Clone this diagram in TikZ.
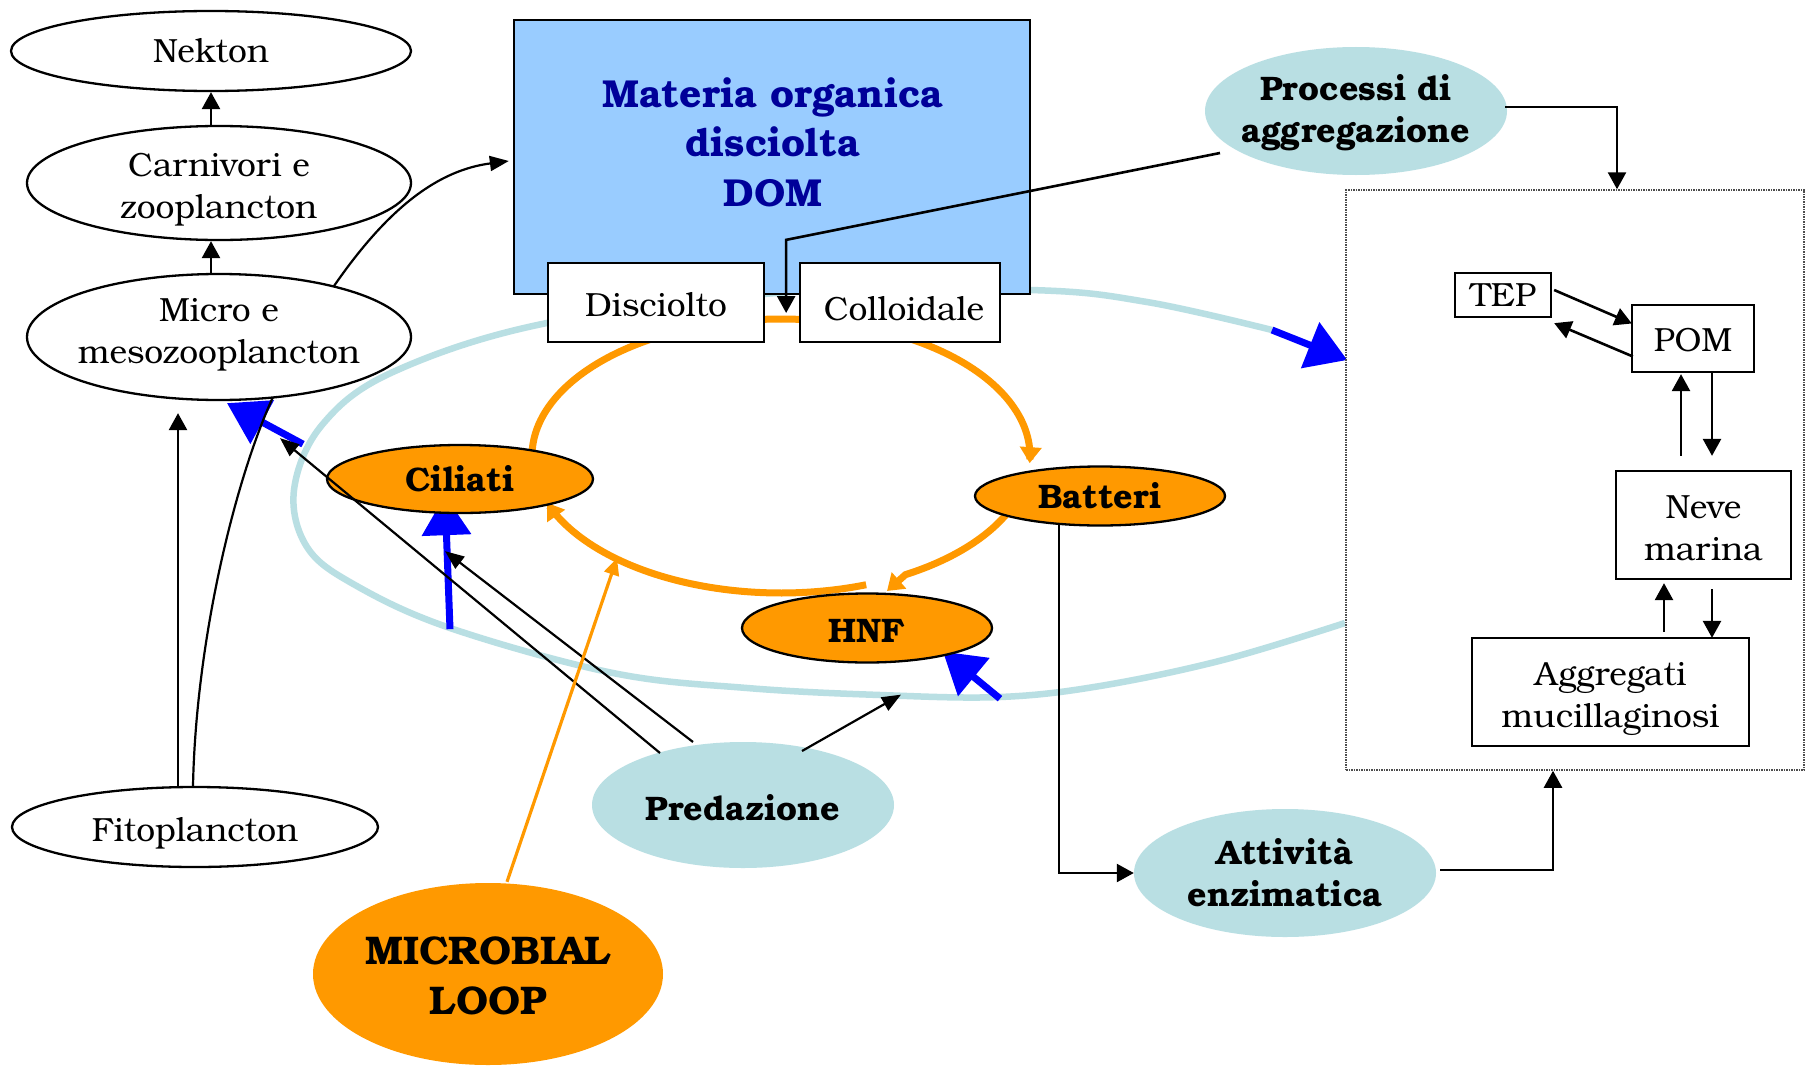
\documentclass[tikz,border=0pt]{standalone}
\usepackage{fontspec}
\setmainfont{texgyrebonum}[Extension=.otf,UprightFont=*-regular,BoldFont=*-bold,ItalicFont=*-italic,BoldItalicFont=*-bolditalic]
\usetikzlibrary{shapes.geometric,arrows.meta,calc}
\pgfdeclarelayer{bg}
\pgfsetlayers{bg,main}
\definecolor{teal1}{RGB}{185,223,227}
\definecolor{domblue}{RGB}{153,204,255}
\definecolor{navy1}{RGB}{0,0,153}
\definecolor{orng}{RGB}{255,153,0}
\definecolor{blu}{RGB}{0,0,255}
\begin{document}
\begin{tikzpicture}[x=1pt,y=-1pt,
  txt/.style={font=\fontsize{33.5}{42}\selectfont, align=center},
  btxt/.style={font=\fontsize{34}{42}\selectfont\bfseries, align=center},
  wellipse/.style={ellipse, draw, line width=2.3pt, fill=white, inner sep=0pt, inner xsep=-12pt, txt},
  oellipse/.style={ellipse, draw, line width=2.3pt, fill=orng, inner sep=0pt, btxt},
  tellipse/.style={ellipse, fill=teal1, inner sep=0pt, inner xsep=-20pt, btxt},
  wbox/.style={rectangle, draw, line width=2.3pt, fill=white, inner sep=0pt, txt},
  blk/.style={line width=2.6pt, -{Triangle[length=17pt,width=18pt]}},
  thin/.style={line width=2.2pt, -{Triangle[length=19pt,width=15pt]}},
  bluearr/.style={draw=blu, line width=7pt, -{Triangle[length=40pt,width=48pt]}},
  oloop/.style={draw=orng, line width=7pt},
  otip/.style={-{Triangle[length=16pt,width=21pt]}},
]
\useasboundingbox (0,0) rectangle (1806,1065);

% nodes
\node[wellipse, minimum width=400pt, minimum height=80pt] (nekton) at (211,51) {Nekton};
\node[wellipse, minimum width=384pt, minimum height=114pt] (carni) at (219,183) {};
\node[txt] (carnitxt) at (219,190) {Carnivori e\\zooplancton};
\node[wellipse, minimum width=384pt, minimum height=126pt] (micro) at (219,337) {};
\node[txt] (microtxt) at (219,335) {Micro e\\mesozooplancton};
\node[wellipse, minimum width=366pt, minimum height=80pt] (fito) at (195,827) {};
\node[txt] (fitotxt) at (195,833) {Fitoplancton};
\node[rectangle, draw, line width=2.3pt, fill=domblue, minimum width=516pt, minimum height=274pt] (dom) at (772,157) {};
\node[align=center, text=navy1, font=\fontsize{39}{49.5}\selectfont\bfseries] (domtxt) at (773,142) {Materia organica\\disciolta\\DOM};
\node[wbox, minimum width=216pt, minimum height=79pt] (disc) at (656,302.5) {};
\node[txt] (disctxt) at (656,304.5) {Disciolto};
\node[wbox, minimum width=200pt, minimum height=79pt] (coll) at (900,302.5) {};
\node[txt] (colltxt) at (904,308.5) {Colloidale};
\node[tellipse, minimum width=302pt, minimum height=128pt] (proc) at (1356,111) {};
\node[btxt] (proctxt) at (1356,113) {Processi di\\aggregazione};
\node[rectangle, draw=black!70, densely dotted, line width=1.5pt, minimum width=458pt, minimum height=580pt] (dashbox) at (1575,480) {};
\node[wbox, minimum width=96pt, minimum height=44pt] (tep) at (1503,295) {TEP};
\node[wbox, minimum width=122pt, minimum height=67pt] (pom) at (1693,338.5) {};
\node[txt] (pomtxt) at (1693,340.5) {POM};
\node[wbox, minimum width=175pt, minimum height=108pt] (neve) at (1703.5,525) {};
\node[txt] (nevetxt) at (1703.5,528) {Neve\\marina};
\node[wbox, minimum width=277pt, minimum height=108pt] (aggr) at (1610.5,692) {};
\node[txt] (aggrtxt) at (1610.5,699) {Aggregati\\mucillaginosi};
\node[oellipse, minimum width=266pt, minimum height=68pt] (ciliati) at (460,479) {Ciliati};
\node[oellipse, minimum width=250pt, minimum height=59pt] (batteri) at (1100,496) {Batteri};
\node[oellipse, minimum width=250pt, minimum height=69pt] (hnf) at (867,628) {};
\node[btxt] (hnftxt) at (867,631) {HNF};
\node[tellipse, minimum width=302pt, minimum height=126pt] (pred) at (743,805) {};
\node[btxt] (predtxt) at (743,808) {Predazione};
\node[tellipse, minimum width=302pt, minimum height=128pt] (attiv) at (1285,873) {Attività\\enzimatica};
\node[ellipse, fill=orng, inner sep=0pt, minimum width=350pt, minimum height=182pt] (mloop) at (488,974) {};
\node[align=center, font=\fontsize{40}{50}\selectfont\bfseries] (mlooptxt) at (488,976) {MICROBIAL\\LOOP};

\begin{pgfonlayer}{bg}
\fill[white] (0,0) rectangle (1806,1065);
% teal loop
\draw[teal1, line width=6.5pt] plot[smooth, tension=0.6] coordinates {(1272,330) (1147,302) (1030,290) (790,292) (547,323) (393,372) (322,425) (294,490) (307,547) (355,585) (450,628) (613,673) (747,688) (880,695) (1000,697) (1100,686) (1223,660) (1345,623)};
% orange microbial loop
\draw[oloop, otip] plot[domain=-90:3, samples=60] ({781+249*cos(\x)},{456+137*sin(\x)});
\draw[oloop, otip] plot[domain=25:60, samples=30] ({781+249*cos(\x)},{456+137*sin(\x)}) -- (887,591);
\draw[oloop, otip] plot[domain=70:160, samples=60] ({781+249*cos(\x)},{456+137*sin(\x)});
\draw[oloop] plot[domain=176:270, samples=60] ({781+249*cos(\x)},{456+137*sin(\x)});
% blue arrows
\draw[bluearr] ($(micro.south)+(84,43)$) -- ($(micro.south)+(8,2)$);
\draw[bluearr] ($(ciliati.south)+(-10,115)$) -- ($(ciliati.south)+(-15,-19)$);
\draw[bluearr] ($(hnf.south)+(133,35)$) -- ($(hnf.south)+(76,-12)$);
\draw[bluearr] (1272,330) -- ($(dashbox.west)+(2,-120)$);
% fitoplancton to DOM (behind micro)
\draw[line width=2.2pt, -{Triangle[length=19pt,width=15pt]}] ($(fito.north)+(-2,0)$) .. controls (196,640) and (235,480) .. (273,397) -- (334,286) .. controls (390,205) and (440,170) .. ($(dom.west)+(-4,4)$);
\end{pgfonlayer}

% food chain arrows
\draw[blk] ($(carni.north)+(-8,0)$) -- (nekton.south);
\draw[blk] ($(micro.north)+(-8,0)$) -- ($(carni.south)+(-8,0)$);
\draw[blk] ($(fito.north)+(-17,0)$) -- ($(micro.south)+(-41,12)$);

% predazione
\draw[thin] ($(pred.center)+(-83,-52)$) -- ($(micro.south)+(61,37)$);
\draw[thin] ($(pred.center)+(-50,-63)$) -- ($(ciliati.south)+(-15,37)$);
\draw[thin] ($(pred.center)+(59,-54)$) -- ($(hnf.south)+(34,31)$);

% microbial loop pointer
\draw[orng, line width=3.2pt, -{Triangle[length=17pt,width=15pt]}] ($(mloop.north)+(19,-1)$) -- (617,558);

% processi
\draw[blk] ($(proc.center)+(-136,42)$) -- ($(disc.north east)+(21,-22)$) -- ($(disc.east)+(21,10.5)$);
\draw[blk] ($(proc.east)+(-2,-4)$) -| ($(dashbox.north)+(42,0)$);

% batteri / attivita
\draw[line width=2.4pt, -{Triangle[length=17pt,width=18pt]}] ($(batteri.south)+(-41,-2)$) |- (attiv.west);
\draw[blk] ($(attiv.east)+(4,-3)$) -| ($(dashbox.south)+(-22,0)$);

% inside aggregate box
\draw[blk] ($(tep.east)+(2,-5)$) -- ($(pom.west)+(1,-15)$);
\draw[blk] ($(pom.west)+(2,18)$) -- ($(tep.south east)+(2,5)$);
\draw[blk] ($(neve.north)+(-22.5,-14)$) -- ($(pom.south)+(-12,1)$);
\draw[blk] ($(pom.south)+(19,0)$) -- ($(neve.north)+(8.5,-14)$);
\draw[blk] ($(aggr.north)+(53.5,-5)$) -- ($(neve.south)+(-39.5,3)$);
\draw[blk] ($(neve.south)+(8.5,9)$) -- ($(aggr.north)+(101.5,1)$);
\end{tikzpicture}
\end{document}
